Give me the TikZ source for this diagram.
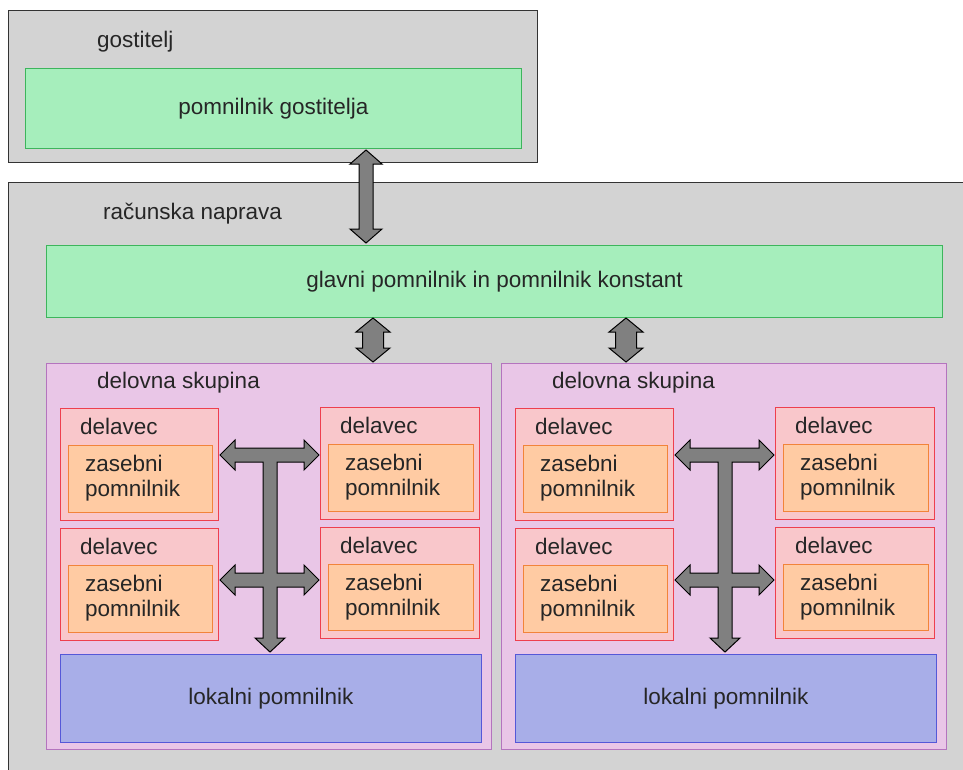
\documentclass[tikz,border=0pt]{standalone}
\usepackage{fontspec}
\setmainfont{Liberation Sans}
\definecolor{bggray}{HTML}{D3D3D3}
\definecolor{bgborder}{HTML}{333333}
\definecolor{memfill}{HTML}{A6EEBC}
\definecolor{memborder}{HTML}{3DB55C}
\definecolor{grpfill}{HTML}{E9C6E7}
\definecolor{grpborder}{HTML}{B474BE}
\definecolor{wkfill}{HTML}{F9C7CB}
\definecolor{wkborder}{HTML}{EE3F4E}
\definecolor{pvfill}{HTML}{FFCBA3}
\definecolor{pvborder}{HTML}{F2843A}
\definecolor{locfill}{HTML}{A8AEE8}
\definecolor{locborder}{HTML}{5558D8}
\definecolor{arrfill}{HTML}{808080}
\tikzset{
  rbox/.style={rectangle, anchor=north west, inner sep=0pt, line width=1pt},
  outerbox/.style={rbox, fill=bggray, draw=bgborder},
  membox/.style={rbox, fill=memfill, draw=memborder},
  grpbox/.style={rbox, fill=grpfill, draw=grpborder},
  wkbox/.style={rbox, fill=wkfill, draw=wkborder},
  pvbox/.style={rbox, fill=pvfill, draw=pvborder},
  locbox/.style={rbox, fill=locfill, draw=locborder},
  lbl/.style={anchor=west, inner sep=0pt, text=black!85},
  mtext/.style={inner sep=0pt, text=black!85},
  blockarrow/.style={fill=arrfill, draw=black, line width=1pt, line join=miter},
}
\newcommand{\fsz}{\fontsize{22.5}{25}\selectfont}
% vertical double block arrow: #1 x, #2 top tip, #3 bottom tip, #4 shaft half width, #5 head half width
\newcommand{\vdarrow}[5]{%
  \draw[blockarrow] (#1,#2) -- ({#1+#5},{#2+14}) -- ({#1+#4},{#2+14}) -- ({#1+#4},{#3-14})
    -- ({#1+#5},{#3-14}) -- (#1,#3) -- ({#1-#5},{#3-14}) -- ({#1-#4},{#3-14})
    -- ({#1-#4},{#2+14}) -- ({#1-#5},{#2+14}) -- cycle;}
% one work group, #1 = name prefix
\newcommand{\workgroup}[1]{%
  \node[grpbox, minimum width=445pt, minimum height=386pt] (#1grp) at (46,363) {};
  \node[lbl] (#1grplbl) at (97,383) {delovna skupina};
  \foreach \n/\x/\y/\w/\h in {tl/60/408/158/112, tr/320/407/159/112, bl/60/528/158/112, br/320/527/159/111}{
    \node[wkbox, minimum width={\w*1pt}, minimum height={\h*1pt}] (#1wk\n) at (\x,\y) {};
    \node[lbl] (#1wklbl\n) at ({\x+20},{\y+18}) {delavec};
    \node[pvbox, minimum width={(\w-14)*1pt}, minimum height={(\h-45)*1pt}] (#1pv\n) at ({\x+8},{\y+37}) {};
    \node[lbl, align=left] (#1pvlbl\n) at ({\x+25},{\y+70}) {zasebni\\pomnilnik};
  }
  \node[locbox, minimum width=421pt, minimum height=88pt] (#1loc) at (60,654) {};
  \node[mtext] (#1loctxt) at (#1loc.center) {lokalni pomnilnik};
  \draw[blockarrow] (220,455) -- (235,440) -- (235,448) -- (304,448) -- (304,440) -- (319,455)
    -- (304,470) -- (304,462) -- (277,462) -- (277,573) -- (304,573) -- (304,565) -- (319,580)
    -- (304,595) -- (304,587) -- (277,587) -- (277,638) -- (285,638) -- (270,652) -- (255,638)
    -- (263,638) -- (263,587) -- (235,587) -- (235,595) -- (220,580) -- (235,565) -- (235,573)
    -- (263,573) -- (263,462) -- (235,462) -- (235,470) -- cycle;
}
\begin{document}
\begin{tikzpicture}[x=1pt, y=-1pt, font=\fsz]
\useasboundingbox (0,0) rectangle (963,769);
\fill[white] (0,0) rectangle (963,769);
\clip (0,0) rectangle (963,769);
% host
\node[outerbox, minimum width=529pt, minimum height=152pt] (host) at (8,10) {};
\node[lbl] (hostlbl) at (97,42) {gostitelj};
\node[membox, minimum width=496pt, minimum height=80pt] (hostmem) at (25,68) {};
\node[mtext] (hostmemtxt) at (hostmem.center) {pomnilnik gostitelja};
% device
\node[outerbox, minimum width=980pt, minimum height=620pt] (dev) at (8,182) {};
\node[lbl] (devlbl) at (103,214) {računska naprava};
\node[membox, minimum width=896pt, minimum height=72pt] (glmem) at (46,245) {};
\node[mtext] (glmemtxt) at (glmem.center) {glavni pomnilnik in pomnilnik konstant};
% work groups
\begin{scope}
  \workgroup{a}
\end{scope}
\begin{scope}[xshift=455pt]
  \workgroup{b}
\end{scope}
% arrows between memories
\vdarrow{366}{150}{243}{7}{16}
\vdarrow{373}{318}{362}{10.5}{17}
\vdarrow{626}{318}{362}{10.5}{17}
\end{tikzpicture}
\end{document}
